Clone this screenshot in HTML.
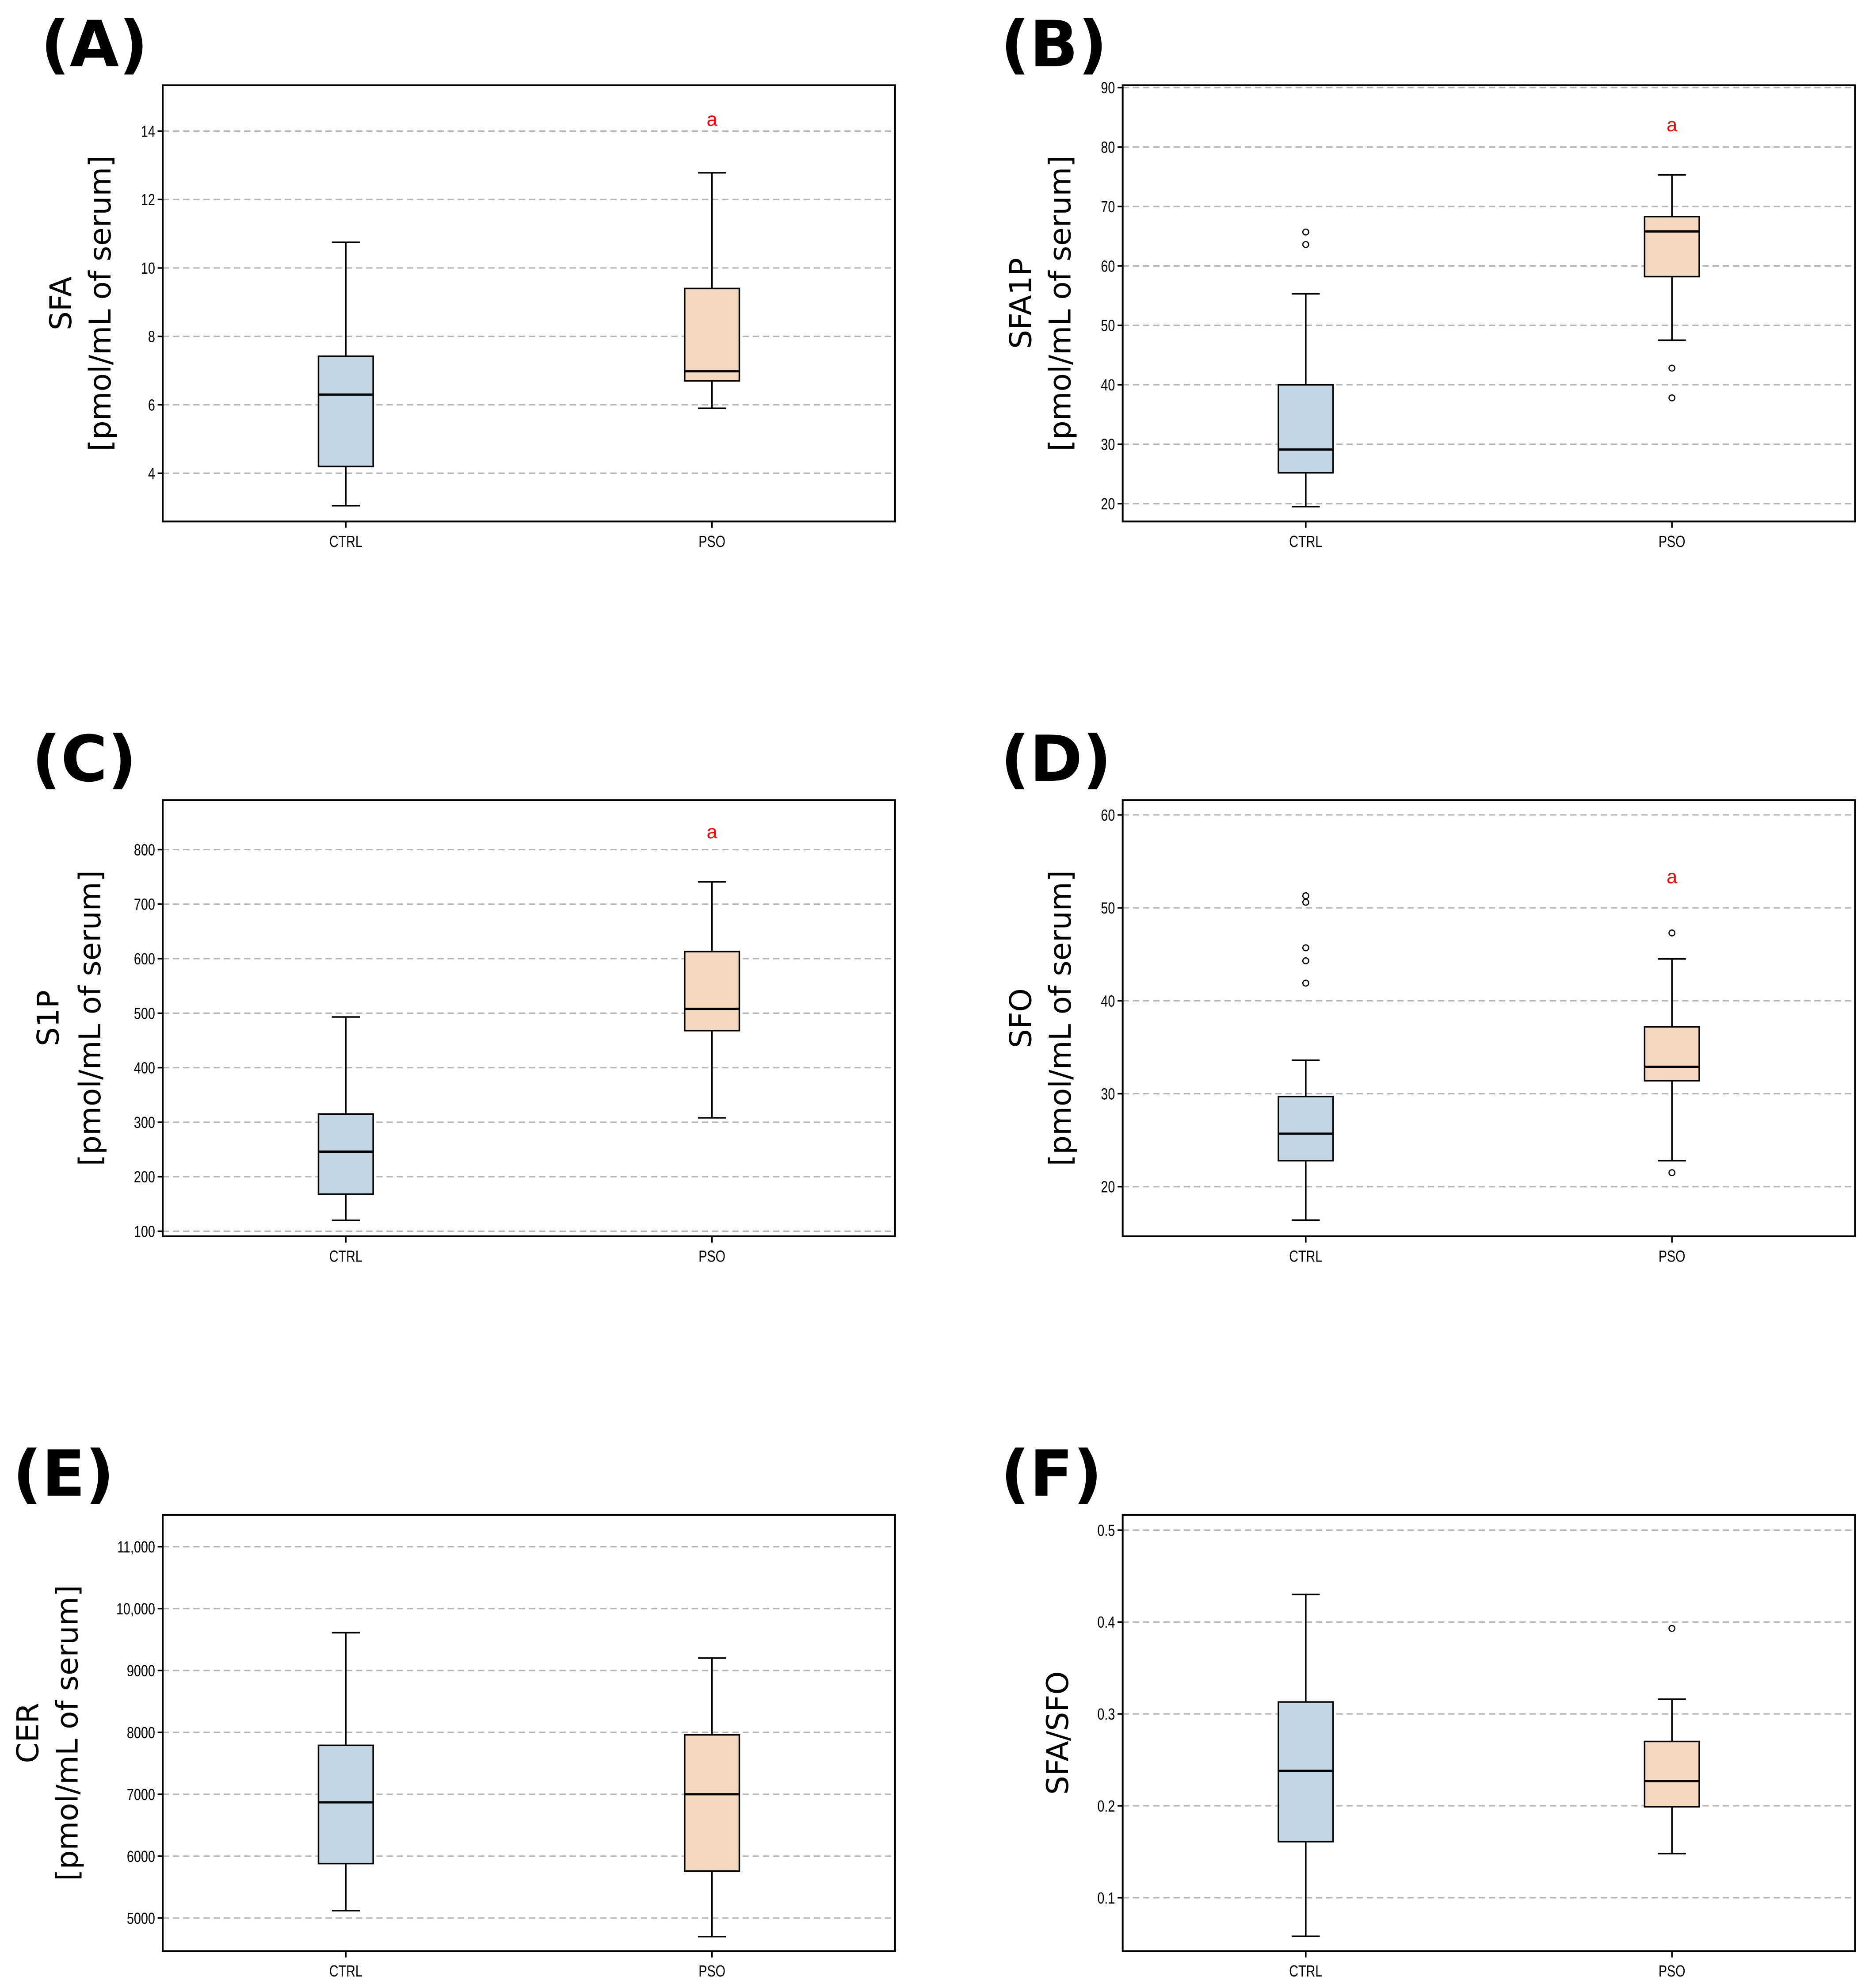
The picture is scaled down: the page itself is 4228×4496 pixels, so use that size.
<!DOCTYPE html>
<html><head><meta charset="utf-8">
<style>
html,body{margin:0;padding:0;background:#fff;}
svg{display:block;}
</style></head>
<body>
<svg id="fig" width="4228" height="4496" viewBox="0 0 1470 1563" preserveAspectRatio="none" xmlns="http://www.w3.org/2000/svg"></svg>
<script>
const categories = ["CTRL","PSO"];
const panelLetters = ["(A)","(B)","(C)","(D)","(E)","(F)"];
const yTitles = [["SFA","[pmol/mL of serum]"],["SFA1P","[pmol/mL of serum]"],["S1P","[pmol/mL of serum]"],["SFO","[pmol/mL of serum]"],["CER","[pmol/mL of serum]"],["SFA/SFO"]];
const yDomains = [[2.59,15.34],[17.0,90.4],[90.7,891],[14.66,61.6],[4466,11514],[0.0419,0.5166]];
const yTicks = [[4,6,8,10,12,14],[20,30,40,50,60,70,80,90],[100,200,300,400,500,600,700,800],[20,30,40,50,60],[5000,6000,7000,8000,9000,10000,11000],[0.1,0.2,0.3,0.4,0.5]];
const tickLabels = [["4","6","8","10","12","14"],["20","30","40","50","60","70","80","90"],["100","200","300","400","500","600","700","800"],["20","30","40","50","60"],["5000","6000","7000","8000","9000","10,000","11,000"],["0.1","0.2","0.3","0.4","0.5"]];
// [whiskerLow, q1, median, q3, whiskerHigh] per group
const ctrlStats = [[3.05,4.2,6.3,7.42,10.75],[19.5,25.2,29.1,40,55.3],[120,168,246,315,493],[16.4,22.8,25.7,29.7,33.6],[5120,5880,6870,7790,9610],[0.058,0.161,0.238,0.313,0.43]];
const psoStats = [[5.9,6.7,6.98,9.4,12.78],[47.5,58.2,65.8,68.3,75.3],[308,468,508,613,741],[22.8,31.4,32.9,37.2,44.5],[4700,5760,7000,7960,9200],[0.148,0.199,0.227,0.27,0.316]];
const ctrlOutliers = [[],[63.6,65.7],[],[41.9,44.3,45.7,50.6,51.3],[],[]];
const psoOutliers = [[],[42.8,37.8],[],[47.3,21.5],[],[0.393]];
const sigMarks = [14.3,83.5,830,53.2,null,null];

const NS="http://www.w3.org/2000/svg";
const svg=document.getElementById('fig');
function mk(tag,attrs,parent){const e=document.createElementNS(NS,tag);for(const k in attrs)e.setAttribute(k,attrs[k]);(parent||svg).appendChild(e);return e;}
const LIB='font-family:"Liberation Sans",sans-serif';
const DJV='font-family:"DejaVu Sans",sans-serif';

const layout=[
 {x0:128,x1:704,y0:67,y1:410,lx:32,ly:52,t1:48,t2:79},
 {x0:883,x1:1459,y0:67,y1:410,lx:787,ly:52,t1:803,t2:834},
 {x0:128,x1:704,y0:629,y1:972,lx:25,ly:614,t1:38,t2:71},
 {x0:883,x1:1459,y0:629,y1:972,lx:787,ly:614,t1:803,t2:834},
 {x0:128,x1:704,y0:1191,y1:1534,lx:10,ly:1176,t1:22,t2:53},
 {x0:883,x1:1459,y0:1191,y1:1534,lx:787,ly:1176,t1:832,t2:0}
];
const fills=["#c3d5e2","#f5d9bf"];

layout.forEach((L,i)=>{
  const g=mk('g',{});
  
  
  const [d0,d1]=yDomains[i];
  const ys=v=>L.y1-(v-d0)/(d1-d0)*(L.y1-L.y0);
  const W=L.x1-L.x0;
  const xs=k=>L.x0+W*(0.25+0.5*k);
  const lab=mk('text',{x:L.lx,y:L.ly,'font-size':50,'font-weight':'bold',fill:'#000',style:DJV},g);
  lab.textContent=panelLetters[i];
  
  
  yTicks[i].forEach((t,j)=>{
    const y=ys(t);
    const gl=mk('line',{x1:L.x0,x2:L.x1,y1:y,y2:y,stroke:'#b5b5b5','stroke-width':1.1,'stroke-dasharray':'5,3'},g);
    
    
    mk('line',{x1:L.x0-4,x2:L.x0,y1:y,y2:y,stroke:'#000','stroke-width':1.2},g);
    const tl=mk('text',{x:L.x0-6,y:y+4.5,'font-size':12.5,'text-anchor':'end',fill:'#000',style:LIB,transform:`translate(${(L.x0-6)*0.2} 0) scale(0.8 1)`},g);
    tl.textContent=tickLabels[i][j];
    
    
  });
  const tcy=(L.y0+L.y1)/2;
  const lines=yTitles[i];
  const xsT=lines.length===2?[L.t1,L.t2]:[L.t1];
  lines.forEach((s,j)=>{
    const t=mk('text',{x:xsT[j],y:tcy,'font-size':23.5,'text-anchor':'middle',fill:'#000',style:DJV,transform:`rotate(-90 ${xsT[j]} ${tcy})`,dy:8},g);
    t.textContent=s;
    
    
  });
  [ctrlStats[i],psoStats[i]].forEach((st,k)=>{
    const cx=xs(k), hw=21.5, cap=11;
    const bg=mk('g',{},g);
    
    
    mk('line',{x1:cx,x2:cx,y1:ys(st[0]),y2:ys(st[1]),stroke:'#000','stroke-width':1.2},bg);
    mk('line',{x1:cx,x2:cx,y1:ys(st[3]),y2:ys(st[4]),stroke:'#000','stroke-width':1.2},bg);
    mk('line',{x1:cx-cap,x2:cx+cap,y1:ys(st[0]),y2:ys(st[0]),stroke:'#000','stroke-width':1.2},bg);
    mk('line',{x1:cx-cap,x2:cx+cap,y1:ys(st[4]),y2:ys(st[4]),stroke:'#000','stroke-width':1.2},bg);
    mk('rect',{x:cx-hw,y:ys(st[3]),width:2*hw,height:ys(st[1])-ys(st[3]),fill:fills[k],stroke:'#000','stroke-width':1.2},bg);
    mk('line',{x1:cx-hw,x2:cx+hw,y1:ys(st[2]),y2:ys(st[2]),stroke:'#000','stroke-width':1.8},bg);
    const outs=k===0?ctrlOutliers[i]:psoOutliers[i];
    outs.forEach(o=>{
      const c=mk('circle',{cx:cx,cy:ys(o),r:2.3,fill:'none',stroke:'#000','stroke-width':0.9},bg);
      
      
    });
    mk('line',{x1:cx,x2:cx,y1:L.y1,y2:L.y1+5,stroke:'#000','stroke-width':1.2},g);
    const xl=mk('text',{x:cx,y:L.y1+20,'font-size':12.5,'text-anchor':'middle',fill:'#000',style:LIB,transform:`translate(${cx*0.2} 0) scale(0.8 1)`},g);
    xl.textContent=categories[k];
    
    
  });
  if(sigMarks[i]!==null){
    const a=mk('text',{x:xs(1),y:ys(sigMarks[i])+4,'font-size':15,'text-anchor':'middle',fill:'#ff0000',style:LIB},g);
    a.textContent='a';
    
    
  }
  const fr=mk('rect',{x:L.x0,y:L.y0,width:W,height:L.y1-L.y0,fill:'none',stroke:'#000','stroke-width':1.4},g);
  
  
});
</script>
</body></html>
